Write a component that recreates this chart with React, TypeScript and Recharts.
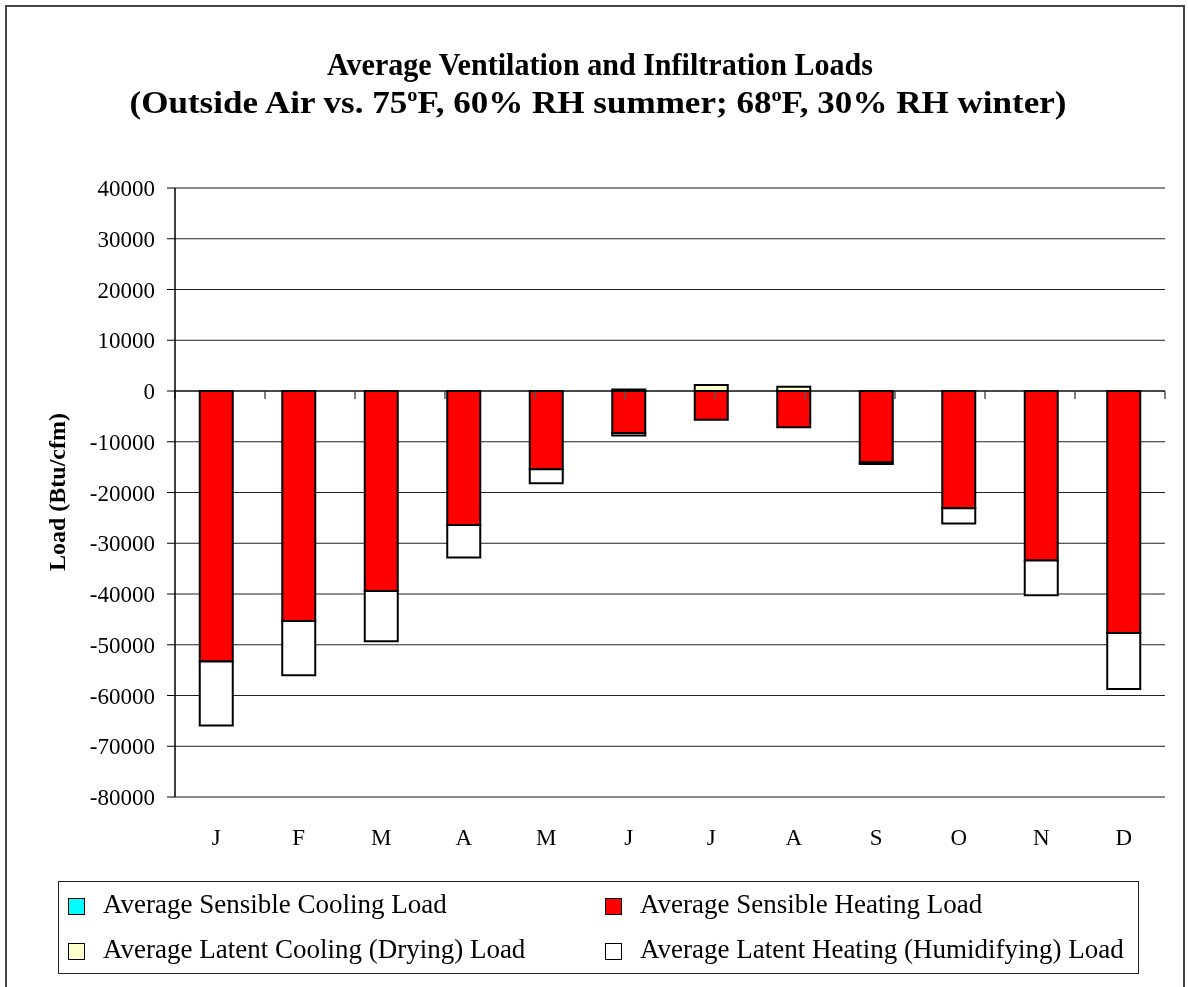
import { Bar, BarChart, CartesianGrid, ReferenceLine, XAxis, YAxis } from "recharts";

const months = ["J", "F", "M", "A", "M", "J", "J", "A", "S", "O", "N", "D"];
const sensibleCooling = [0, 0, 0, 0, 0, 0, 0, 0, 0, 0, 0, 0];
const latentCooling = [0, 0, 0, 0, 0, 300, 1200, 850, 0, 0, 0, 0];
const sensibleHeating = [-53300, -45300, -39400, -26400, -15400, -8300, -5650, -7150, -14100, -23100, -33400, -47700];
const latentHeating = [-12600, -10700, -9900, -6400, -2800, -450, 0, 0, -300, -3000, -6850, -11000];
const yTicks = [40000, 30000, 20000, 10000, 0, -10000, -20000, -30000, -40000, -50000, -60000, -70000, -80000];

const seriesNames = {
  sensibleCooling: "Average Sensible Cooling Load",
  sensibleHeating: "Average Sensible Heating Load",
  latentCooling: "Average Latent Cooling (Drying) Load",
  latentHeating: "Average Latent Heating (Humidifying) Load",
};

const colors = {
  sensibleCooling: "#00ffff",
  sensibleHeating: "#ff0000",
  latentCooling: "#ffffcc",
  latentHeating: "#ffffff",
};

const font = '"Liberation Serif", "Times New Roman", serif';

const data = months.map((month, i) => ({
  month,
  sensibleCooling: sensibleCooling[i],
  latentCooling: latentCooling[i],
  sensibleHeating: sensibleHeating[i],
  latentHeating: latentHeating[i],
}));

const boundaries = months.map((_, i) => i).concat([months.length]);
const legendOrder: (keyof typeof seriesNames)[] = ["sensibleCooling", "sensibleHeating", "latentCooling", "latentHeating"];

function LegendBox() {
  return (
    <div
      style={{
        position: "absolute",
        left: 50,
        top: 873,
        width: 1081,
        height: 93,
        border: "1px solid #222",
        boxSizing: "border-box",
        fontFamily: font,
        fontSize: 27,
        color: "#000",
      }}
    >
      {legendOrder.map((key, i) => {
        const col = i % 2;
        const row = Math.floor(i / 2);
        return (
          <div key={key} style={{ position: "absolute", left: col ? 546 : 9, top: row * 45, height: 45, width: 530 }}>
            <div
              style={{
                position: "absolute",
                left: 0,
                top: 16,
                width: 15,
                height: 15,
                background: colors[key],
                border: "1.5px solid #000",
              }}
            />
            <div style={{ position: "absolute", left: 35, top: 0, lineHeight: "45px", whiteSpace: "nowrap" }}>
              {seriesNames[key]}
            </div>
          </div>
        );
      })}
    </div>
  );
}

export default function App() {
  return (
    <div style={{ position: "relative", width: 1172, height: 975, background: "#fff", fontFamily: font }}>
      <div
        style={{
          position: "fixed",
          left: 5,
          top: 5,
          width: 1176,
          height: 1000,
          border: "2px solid #444",
          pointerEvents: "none",
        }}
      />
      <svg width={1172} height={900} style={{ position: "absolute", left: 0, top: 0 }}>
        <text x={592} y={67} textAnchor="middle" fontFamily={font} fontWeight="bold" fontSize={31} textLength={546} lengthAdjust="spacingAndGlyphs">
          Average Ventilation and Infiltration Loads
        </text>
        <text x={590} y={105} textAnchor="middle" fontFamily={font} fontWeight="bold" fontSize={31} textLength={937} lengthAdjust="spacingAndGlyphs">
          (Outside Air vs. 75<tspan dy={-12} fontSize={18}>o</tspan>
          <tspan dy={12}>F, 60% RH summer; 68</tspan>
          <tspan dy={-12} fontSize={18}>o</tspan>
          <tspan dy={12}>F, 30% RH winter)</tspan>
        </text>
        <text
          x={49}
          y={484}
          textAnchor="middle"
          dominantBaseline="central"
          fontFamily={font}
          fontWeight="bold"
          fontSize={24}
          transform="rotate(-90, 49, 484)"
        >
          Load (Btu/cfm)
        </text>
      </svg>
      <div style={{ position: "absolute", left: 0, top: 0 }}>
        <BarChart
          width={1172}
          height={900}
          data={data}
          stackOffset="sign"
          barCategoryGap="30%"
          margin={{ top: 180, right: 15, bottom: 51, left: 67 }}
        >
          <CartesianGrid vertical={false} stroke="#222" strokeWidth={1} />
          <XAxis
            dataKey="month"
            axisLine={false}
            tickLine={false}
            tickSize={0}
            tickMargin={32}
            height={60}
            interval={0}
            tick={{ fill: "#000", fontSize: 23, fontFamily: font }}
          />
          <XAxis xAxisId="num" type="number" domain={[0, 12]} allowDataOverflow hide />
          <YAxis
            domain={[-80000, 40000]}
            ticks={yTicks}
            interval={0}
            width={100}
            tickSize={8}
            tickMargin={12}
            axisLine={{ stroke: "#000", strokeWidth: 1.5 }}
            tickLine={{ stroke: "#000" }}
            tick={{ fill: "#000", fontSize: 23, fontFamily: font }}
          />
          <ReferenceLine y={40000} stroke="#8c8c8c" strokeWidth={2} />
          <ReferenceLine y={-80000} stroke="#8c8c8c" strokeWidth={2} />
          <ReferenceLine xAxisId="num" x={12} stroke="#8c8c8c" strokeWidth={2} />
          {boundaries.map((b) => (
            <ReferenceLine
              key={b}
              xAxisId="num"
              segment={[
                { x: b, y: 0 },
                { x: b, y: -1600 },
              ]}
              stroke="#555"
              strokeWidth={1.5}
            />
          ))}
          <Bar dataKey="sensibleCooling" name={seriesNames.sensibleCooling} stackId="a" fill={colors.sensibleCooling} stroke="#000" strokeWidth={2} isAnimationActive={false} />
          <Bar dataKey="latentCooling" name={seriesNames.latentCooling} stackId="a" fill={colors.latentCooling} stroke="#000" strokeWidth={2} isAnimationActive={false} />
          <Bar dataKey="sensibleHeating" name={seriesNames.sensibleHeating} stackId="a" fill={colors.sensibleHeating} stroke="#000" strokeWidth={2} isAnimationActive={false} />
          <Bar dataKey="latentHeating" name={seriesNames.latentHeating} stackId="a" fill={colors.latentHeating} stroke="#000" strokeWidth={2} isAnimationActive={false} />
          <ReferenceLine y={0} stroke="#000" strokeWidth={1} />
        </BarChart>
      </div>
      <LegendBox />
    </div>
  );
}
